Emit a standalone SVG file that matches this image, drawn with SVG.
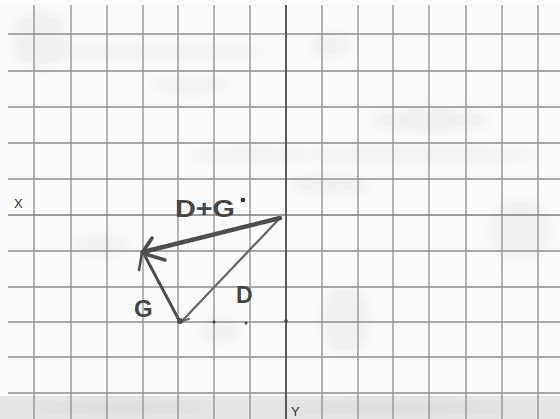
<svg xmlns="http://www.w3.org/2000/svg" width="560" height="419" viewBox="0 0 560 419">
<defs>
<style>
.grid line{stroke:#8e8e8e;stroke-width:1.3}
.axis{stroke:#5a5a5a;stroke-width:2}
.pen{fill:none;stroke:#4e4e4e;stroke-linecap:round;stroke-linejoin:round}
.hand{font-family:"Liberation Sans",Arial,sans-serif;fill:#474747;font-weight:bold}
.lbl{font-family:"Liberation Sans",Arial,sans-serif;fill:#333;font-size:13px}
</style>
<filter id="blur" x="-50%" y="-50%" width="200%" height="200%"><feGaussianBlur stdDeviation="6"/></filter>
</defs>
<rect width="560" height="419" fill="#fbfbfb"/>
<g id="smudges" filter="url(#blur)" fill="#dcdcdc" opacity="0.35">
<ellipse cx="40" cy="40" rx="28" ry="30"/>
<ellipse cx="160" cy="52" rx="110" ry="7"/>
<ellipse cx="190" cy="85" rx="40" ry="8"/>
<ellipse cx="330" cy="45" rx="20" ry="12"/>
<ellipse cx="430" cy="120" rx="60" ry="12"/>
<ellipse cx="420" cy="155" rx="120" ry="8"/>
<ellipse cx="250" cy="155" rx="60" ry="7"/>
<ellipse cx="330" cy="185" rx="40" ry="10"/>
<ellipse cx="100" cy="245" rx="30" ry="10"/>
<ellipse cx="345" cy="320" rx="25" ry="35"/>
<ellipse cx="220" cy="330" rx="20" ry="12"/>
<ellipse cx="520" cy="230" rx="30" ry="30"/>
</g>
<rect x="0" y="396" width="560" height="23" fill="#e6e6e6"/>
<g filter="url(#blur)" fill="#d4d4d4" opacity="0.6">
<ellipse cx="120" cy="407" rx="90" ry="6"/>
<ellipse cx="400" cy="407" rx="120" ry="6"/>
</g>
<rect x="0" y="0" width="560" height="5" fill="#fdfdfd"/>
<g id="grid" class="grid">
<line x1="34" y1="5" x2="34" y2="419"/>
<line x1="71" y1="5" x2="71" y2="419"/>
<line x1="107" y1="5" x2="107" y2="419"/>
<line x1="143" y1="5" x2="143" y2="419"/>
<line x1="178" y1="5" x2="178" y2="419"/>
<line x1="214" y1="5" x2="214" y2="419"/>
<line x1="250" y1="5" x2="250" y2="419"/>
<line x1="322" y1="5" x2="322" y2="419"/>
<line x1="358" y1="5" x2="358" y2="419"/>
<line x1="393" y1="5" x2="393" y2="419"/>
<line x1="429" y1="5" x2="429" y2="419"/>
<line x1="466" y1="5" x2="466" y2="419"/>
<line x1="502" y1="5" x2="502" y2="419"/>
<line x1="538" y1="5" x2="538" y2="419"/>
<line x1="8" y1="34" x2="560" y2="34"/>
<line x1="8" y1="71" x2="560" y2="71"/>
<line x1="8" y1="107" x2="560" y2="107"/>
<line x1="8" y1="143" x2="560" y2="143"/>
<line x1="8" y1="179" x2="560" y2="179"/>
<line x1="8" y1="251" x2="560" y2="251"/>
<line x1="8" y1="287" x2="560" y2="287"/>
<line x1="8" y1="322" x2="560" y2="322"/>
<line x1="8" y1="357" x2="560" y2="357"/>
<line x1="8" y1="393" x2="560" y2="393"/>
</g>
<g id="axes">
<line class="axis" x1="8" y1="215" x2="560" y2="215" style="stroke:#7a7a7a;stroke-width:1.5"/>
<line class="axis" x1="286" y1="5" x2="286" y2="419"/>
<text class="lbl" x="14" y="208">X</text>
<text class="lbl" x="291" y="416">Y</text>
</g>
<g id="connectors">
<g id="vec-D">
<path class="pen" d="M279,219 L182,321" style="stroke:#666;stroke-width:2.2"/>
<path class="pen" d="M182,321 L189,319" style="stroke:#666;stroke-width:2.2"/>
</g>
<g id="vec-G">
<path class="pen" d="M180,322 L145,256" style="stroke-width:3"/>
<circle cx="180" cy="321" r="3" fill="#4e4e4e"/>
</g>
<g id="vec-DG">
<path class="pen" d="M280,218 L143,252" style="stroke-width:4.5"/>
<path class="pen" d="M152,238 L142,253 L165,260" style="stroke-width:3.5"/>
<path class="pen" d="M142,253 L156,249 M142,253 L139,270 M142,253 L150,242" style="stroke-width:2.5"/>
</g>
<g id="dots" fill="#444">
<circle cx="214" cy="322" r="1.5"/>
<circle cx="246" cy="323" r="1.5"/>
<circle cx="286" cy="321" r="1.8"/>
</g>
</g>
<g id="label-DG">
<text class="hand" x="175" y="217" font-size="24" textLength="60" lengthAdjust="spacingAndGlyphs">D+G</text>
<circle cx="243" cy="200" r="2.3" fill="#333"/>
</g>
<g id="label-G">
<text class="hand" x="134" y="317" font-size="24">G</text>
</g>
<g id="label-D">
<text class="hand" x="236" y="303" font-size="23">D</text>
</g>
</svg>
